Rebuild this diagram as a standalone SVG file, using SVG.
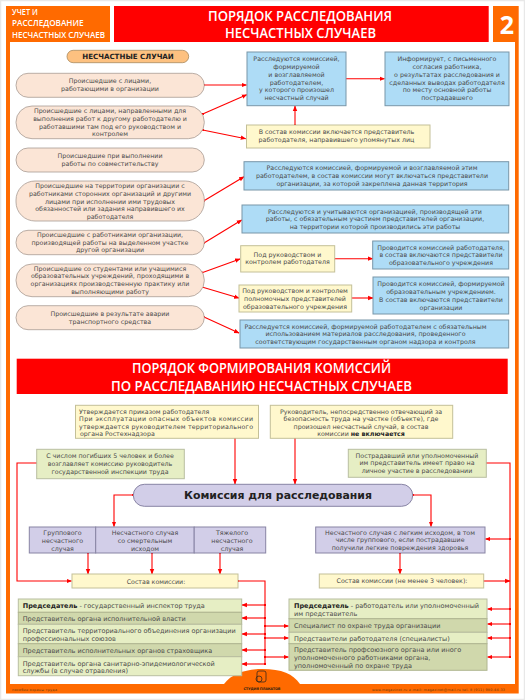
<svg xmlns="http://www.w3.org/2000/svg" width="525" height="700" viewBox="0 0 525 700">
<defs>
<marker id="a" viewBox="0 0 10 10" refX="9" refY="5" markerWidth="5" markerHeight="5" orient="auto"><path d="M0 1L10 5L0 9z" fill="#f00"/></marker>
<marker id="d" viewBox="0 0 10 10" refX="5" refY="5" markerWidth="2.4" markerHeight="2.4"><circle cx="5" cy="5" r="5" fill="#f00"/></marker>
</defs>
<style>
text{font-family:"DejaVu Sans",Verdana,sans-serif;font-size:6.3px;fill:#4a4a4a;text-anchor:middle}
.l{text-anchor:start;font-size:6.5px}
.b{font-weight:bold;fill:#222}
.h{font-family:"Open Sans","Liberation Sans",sans-serif;font-size:13.6px;fill:#fff;font-weight:600}
.s{font-family:"Open Sans","Liberation Sans",sans-serif;font-size:8.6px;fill:#fff;font-weight:600;text-anchor:start}
.p{fill:#fbe5d6;stroke:#a89c94;stroke-width:.8}
.u{fill:#aedcf6;stroke:#7896a8;stroke-width:1}
.y{fill:#fff8cd;stroke:#c4c098;stroke-width:1}
.g{fill:#e6eec4;stroke:#b8bea0;stroke-width:1}
.g2{fill:#d0d8ac;stroke:#b0b690;stroke-width:1}
.v{fill:#d2cee8;stroke:#8884a4;stroke-width:1}
.f{font-size:3.4px;fill:#663a10}
#conn path{fill:none;stroke:#f00;stroke-width:1.1;marker-end:url(#a);marker-start:url(#d)}
#conn path.n{marker-end:none}
</style>
<rect width="525" height="700" fill="#fff"/>
<rect x=".5" y=".5" width="524" height="699" fill="none" stroke="#e8e8e8" stroke-width="1.500"/>
<g id="frame" fill="#ff6a00">
<rect x="6" y="6" width="104" height="36"/>
<rect x="6" y="42" width="4" height="642"/>
<rect x="6" y="684" width="512.700" height="9.500"/>
<rect x="493" y="6" width="25.700" height="36"/>
<rect x="515" y="42" width="3.700" height="642"/>
<path d="M224 684C232 673 248 669 262 669C282 669 293 674 300 684z"/>
</g>
<rect x="114" y="6" width="374.700" height="36" fill="#f00"/>
<g id="header">
<text class="s" x="12" y="15" textLength="25.700" lengthAdjust="spacingAndGlyphs">УЧЕТ И</text>
<text class="s" x="12" y="26" textLength="71.500" lengthAdjust="spacingAndGlyphs">РАССЛЕДОВАНИЕ</text>
<text class="s" x="12" y="37.700" textLength="93" lengthAdjust="spacingAndGlyphs">НЕСЧАСТНЫХ СЛУЧАЕВ</text>
<text class="h" x="300" y="20.700" textLength="184" lengthAdjust="spacingAndGlyphs">ПОРЯДОК РАССЛЕДОВАНИЯ</text>
<text class="h" x="300.500" y="37.700" textLength="151" lengthAdjust="spacingAndGlyphs">НЕСЧАСТНЫХ СЛУЧАЕВ</text>
<text x="507" y="33.500" style="font-family:'Open Sans','Liberation Sans',sans-serif;font-size:25px;font-weight:700;fill:#fff">2</text>
</g>
<g id="conn">
<path d="M204 85H246.500"/>
<path d="M202.700 114L246.700 94.700"/>
<path d="M202.700 130L245.700 138.700"/>
<path d="M295 125V106"/>
<path d="M345 78.700H384.500"/>
<path d="M204 200.700L244 176.700"/>
<path d="M204 243L241.700 220"/>
<path d="M202 272.700L240 259"/>
<path d="M202 287L239 298"/>
<path d="M204 317L239 333"/>
<path d="M334 258.700H372.700"/>
<path d="M350 298H373"/>
<path d="M235 438V484"/>
<path d="M295 438V484"/>
<path d="M133.300 495H114V526.500"/>
<path d="M37.700 463H17V581H71.500"/>
<path d="M412.700 495H431V526.500"/>
<path d="M485.500 463H510V657" class="n"/>
<path d="M510 539H485.500"/>
<path d="M88 553V574"/>
<path d="M152 553V574"/>
<path d="M220 553V574"/>
<path d="M400 553V574"/>
<path d="M238 581H265V664" class="n"/>
<path d="M483 581H510"/>
<path d="M265 605H242"/>
<path d="M265 618H242"/>
<path d="M265 634H242"/>
<path d="M265 650H242"/>
<path d="M265 664H242"/>
<path d="M265 626H288.500"/>
<path d="M265 638H288.500"/>
<path d="M265 657H288.500"/>
<path d="M510 609H487.500"/>
<path d="M510 624H487.500"/>
<path d="M510 638H487.500"/>
<path d="M510 657H487.500"/>
</g>
<g id="n-title"><rect x="67" y="50.300" width="121.700" height="12.400" rx="6.200" fill="#fdc180" stroke="#a88a60" stroke-width=".8"/><text class="b" x="128" y="59" style="font-size:7.100px">НЕСЧАСТНЫЕ СЛУЧАИ</text></g>
<g id="n1"><rect class="p" x="16" y="73.300" width="188.300" height="24" rx="12"/><text x="110" y="83.300">Происшедшие с лицами,</text><text x="110" y="91">работающими в организации</text></g>
<g id="n2"><rect class="p" x="16" y="106" width="188.300" height="32.700" rx="16"/><text x="110" y="113.300">Происшедшие с лицами, направленными для</text><text x="110" y="121">выполнения работ к другому работодателю и</text><text x="110" y="128.700">работавшими там под его руководством и</text><text x="110" y="136.300">контролем</text></g>
<g id="n3"><rect class="p" x="16" y="148" width="188.300" height="24" rx="12"/><text x="110" y="158">Происшедшие при выполнении</text><text x="110" y="166">работы по совместительству</text></g>
<g id="n4"><rect class="p" x="16" y="181" width="188.300" height="40" rx="19"/><text x="110" y="188">Происшедшие на территории организации с</text><text x="110" y="196">работниками сторонних организаций и другими</text><text x="110" y="203.500">лицами при исполнении ими трудовых</text><text x="110" y="211">обязанностей или задания направившего их</text><text x="110" y="219">работодателя</text></g>
<g id="n5"><rect class="p" x="16" y="230.300" width="188.300" height="24.400" rx="12"/><text x="110" y="237">Происшедшие с работниками организации,</text><text x="110" y="244.700">производящей работы на выделенном участке</text><text x="110" y="252.300">другой организации</text></g>
<g id="n6"><rect class="p" x="16" y="264" width="188.300" height="32.700" rx="16"/><text x="110" y="270.500">Происшедшие со студентами или учащимися</text><text x="110" y="278.200">образовательных учреждений, проходящими в</text><text x="110" y="285.800">организациях производственную практику или</text><text x="110" y="293.500">выполняющими работу</text></g>
<g id="n7"><rect class="p" x="16" y="305.700" width="188.300" height="24" rx="12"/><text x="110" y="316">Происшедшие в результате аварии</text><text x="110" y="323.700">транспортного средства</text></g>
<g id="b1"><rect class="u" x="247" y="52" width="99" height="53.700"/><text x="296.500" y="61.300">Расследуются комиссией,</text><text x="296.500" y="69">формируемой</text><text x="296.500" y="77">и возглавляемой</text><text x="296.500" y="84.700">работодателем,</text><text x="296.500" y="92.300">у которого произошел</text><text x="296.500" y="100">несчастный случай</text></g>
<g id="b2"><rect class="u" x="385" y="52" width="124" height="53.700"/><text x="447" y="61.300">Информирует, с письменного</text><text x="447" y="69">согласия работника,</text><text x="447" y="77">о результатах расследования и</text><text x="447" y="84.700">сделанных выводах работодателя</text><text x="447" y="92.300">по месту основной работы</text><text x="447" y="100">пострадавшего</text></g>
<g id="b3"><rect class="y" x="246.500" y="125" width="183.500" height="23"/><text x="336.500" y="134">В состав комиссии включается представитель</text><text x="336.500" y="142">работодателя, направившего упомянутых лиц</text></g>
<g id="b4"><rect class="u" x="244" y="161.700" width="264.700" height="28.300"/><text x="372" y="170">Расследуются комиссией, формируемой и возглавляемой  этим</text><text x="372" y="177.700">работодателем, в состав комиссии могут включаться представители</text><text x="372" y="185.500">организации, за которой закреплена данная территория</text></g>
<g id="b5"><rect class="u" x="242" y="205" width="266.700" height="28"/><text x="375" y="213.500">Расследуются и учитываются организацией, производящей эти</text><text x="375" y="221">работы, с обязательным участием представителей организации,</text><text x="375" y="228.700">на территории которой производились эти работы</text></g>
<g id="b6"><rect class="y" x="240.700" y="245.700" width="94" height="26.300"/><text x="287.500" y="256.500">Под руководством и</text><text x="287.500" y="264">контролем работодателя</text></g>
<g id="b7"><rect class="u" x="372.700" y="241" width="136" height="28"/><text x="441" y="249.500">Проводится комиссией работодателя,</text><text x="441" y="257">в состав включаются представители</text><text x="441" y="265">образовательного учреждения</text></g>
<g id="b8"><rect class="y" x="239" y="285" width="112.700" height="27"/><text x="295" y="293">Под руководством и контролем</text><text x="295" y="300.700">полномочных представителей</text><text x="295" y="308.500">образовательного учреждения</text></g>
<g id="b9"><rect class="u" x="373" y="277" width="135.700" height="37"/><text x="441" y="286">Проводится комиссией, формируемой</text><text x="441" y="294">образовательным учреждением.</text><text x="441" y="301.700">В состав включаются представители</text><text x="441" y="309.500">организации</text></g>
<g id="b10"><rect class="u" x="240" y="320" width="268.700" height="28"/><text x="365.500" y="328.500">Расследуется комиссией, формируемой работодателем с обязательным</text><text x="365.500" y="336.200">использованием материалов расследования, проведенного</text><text x="365.500" y="344">соответствующим государственным органом надзора и контроля</text></g>
<g id="title2"><rect x="16.700" y="358.700" width="491" height="35.300" fill="#f00"/><text class="h" x="261.500" y="373" textLength="259" lengthAdjust="spacingAndGlyphs">ПОРЯДОК ФОРМИРОВАНИЯ КОМИССИЙ</text><text class="h" x="261.500" y="391" textLength="301" lengthAdjust="spacingAndGlyphs">ПО РАССЛЕДАВАНИЮ НЕСЧАСТНЫХ СЛУЧАЕВ</text></g>
<g id="c1"><rect class="y" x="75.500" y="405.300" width="183" height="33"/><text class="l" x="79" y="413.500" style="font-size:6.300px">Утверждается приказом работодателя</text><text x="166" y="421" textLength="174">При эксплуатации опасных объектов комиссии</text><text x="166" y="428.500" textLength="174">утверждается руководителем территориального</text><text class="l" x="80" y="436" style="font-size:6.300px">органа Ростехнадзора</text></g>
<g id="c2"><rect class="y" x="270.300" y="405.300" width="182.400" height="33"/><text x="361" y="413.500">Руководитель, непосредственно отвечающий за</text><text x="361" y="421">безопасность труда на участке (объекте), где</text><text x="361" y="428.500">произошел несчастный случай, в состав</text><text x="361" y="436">комиссии <tspan class="b">не включается</tspan></text></g>
<g id="c3"><rect class="g" x="36.700" y="449.300" width="147.600" height="29.400"/><text x="110" y="458">С числом погибших 5 человек и более</text><text x="110" y="465.700">возглавляет комиссию руководитель</text><text x="110" y="473.500">государственной инспекции труда</text></g>
<g id="c4"><rect class="g" x="348.300" y="449.300" width="138" height="28"/><text x="417" y="457.500">Пострадавший или уполномоченный</text><text x="417" y="465">им представитель имеет право на</text><text x="417" y="472.700">личное участие в расследовании</text></g>
<g id="c5"><rect x="133.300" y="484.300" width="279.400" height="22" rx="11" fill="#d2cee8" stroke="#8884a4"/><text class="b" x="278" y="498.500" style="font-size:10.900px">Комиссия для расследования</text></g>
<g id="c6"><rect class="v" x="29.300" y="527" width="66.400" height="26"/><text x="62.500" y="535">Группового</text><text x="62.500" y="543">несчастного</text><text x="62.500" y="550.500">случая</text></g>
<g id="c7"><rect class="v" x="95.700" y="527" width="98.500" height="26"/><text x="145" y="535">Несчастного случая</text><text x="145" y="543">со смертельным</text><text x="145" y="550.500">исходом</text></g>
<g id="c8"><rect class="v" x="194.200" y="527" width="71.500" height="26"/><text x="232" y="535">Тяжелого</text><text x="232" y="543">несчастного</text><text x="232" y="550.500">случая</text></g>
<g id="c9"><rect class="v" x="315.700" y="527" width="169.300" height="26"/><text x="400" y="534.500">Несчастного случая с легким исходом, в том</text><text x="400" y="542">числе группового, если пострадавшие</text><text x="400" y="549.500">получили легкие повреждения здоровья</text></g>
<g id="c10"><rect class="y" x="72" y="574" width="166" height="14"/><text x="156" y="583.500">Состав комиссии:</text></g>
<g id="c11"><rect class="y" x="319.300" y="574" width="164.400" height="14"/><text x="402" y="583">Состав комиссии (не менее 3 человек):</text></g>
<g id="l-list"><rect class="g" x="18.300" y="599" width="223.400" height="13.300"/><text class="l" x="22.700" y="608"><tspan class="b">Председатель</tspan> - государственный инспектор труда</text>
<rect class="g2" x="18.300" y="612.300" width="223.400" height="12"/><text class="l" x="22.700" y="620.500">Представитель органа исполнительной власти</text>
<rect class="g" x="18.300" y="624.300" width="223.400" height="19.400"/><text class="l" x="22.700" y="633">Представитель территориального объединения организации</text><text class="l" x="22.700" y="640.700">профессиональных союзов</text>
<rect class="g2" x="18.300" y="643.700" width="223.400" height="13"/><text class="l" x="22.700" y="652.500">Представитель исполнительных органов страховщика</text>
<rect class="g" x="18.300" y="656.700" width="223.400" height="19"/><text class="l" x="22.700" y="665.500">Представитель органа санитарно-эпидемиологической</text><text class="l" x="22.700" y="673">службы (в случае отравления)</text></g>
<g id="r-list"><rect class="g" x="289" y="599" width="198" height="19.700"/><text class="l" x="294" y="607.700"><tspan class="b">Председатель</tspan> - работодатель или уполномоченный</text><text class="l" x="294" y="615.500">им представитель</text>
<rect class="g2" x="289" y="618.700" width="198" height="13.600"/><text class="l" x="294" y="628">Специалист по охране труда организации</text>
<rect class="g" x="289" y="632.300" width="198" height="11.400"/><text class="l" x="294" y="640.500">Представители работодателя (специалисты)</text>
<rect class="g2" x="289" y="643.700" width="198" height="26.600"/><text class="l" x="294" y="652">Представитель профсоюзного органа или иного</text><text class="l" x="294" y="659.700">уполномоченного работниками органа,</text><text class="l" x="294" y="667.500">уполномоченный по охране труда</text></g>
<g id="footer"><text class="f" x="12" y="690.500" style="text-anchor:start" textLength="45">пособие охраны труда</text><g fill="none" stroke="#3a2a1a" stroke-width=".8"><rect x="257" y="671" width="9" height="11" rx="2"/><circle cx="259" cy="679" r="3"/></g><text x="262" y="689.500" style="font-size:3.500px;fill:#332211;font-weight:bold" textLength="37">СТУДИЯ ПЛАКАТОВ</text><text class="f" x="372" y="690.500" style="text-anchor:start" textLength="133">www.magazinot.ru    e-mail: magazinot@mail.ru    tel. 8 (911) 980-44-33</text></g>
</svg>
